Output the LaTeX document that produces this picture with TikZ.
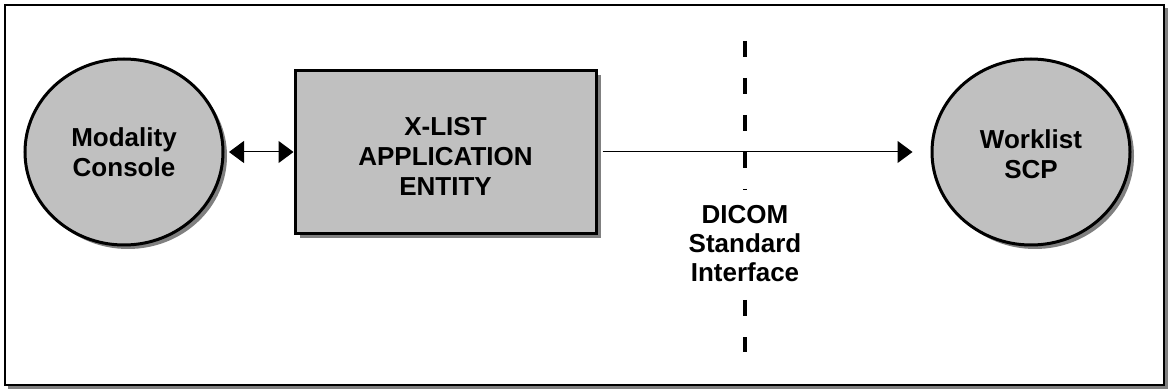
\documentclass[tikz,border=0pt]{standalone}
\usepackage{fontspec}
\setmainfont{Liberation Sans}
\usetikzlibrary{arrows.meta,shapes.geometric,shadows}
\definecolor{boxgray}{RGB}{192,192,192}
\definecolor{shadowgray}{RGB}{128,128,128}
\begin{document}
\begin{tikzpicture}[x=1pt,y=-1pt,
  lbl/.style={font=\fontsize{26}{30}\selectfont\bfseries, align=center},
  entbox/.style={lbl, draw=black, line width=3pt, fill=boxgray,
    drop shadow={shadow xshift=5pt, shadow yshift=-5pt, fill=shadowgray, opacity=1}},
  entround/.style={lbl, ellipse, draw=black, line width=3pt, fill=boxgray,
    minimum width=198pt, minimum height=186pt, inner sep=0pt,
    drop shadow={shadow xshift=4pt, shadow yshift=-4pt, fill=shadowgray, opacity=1}},
  conn/.style={line width=1pt},
  tip/.tip={Triangle[length=15pt,width=22pt]},
  divider/.style={line width=4.5pt, dash pattern=on 16pt off 21pt}]
\useasboundingbox (0,0) rectangle (1168,390);
% frame
\fill[shadowgray] (8,8) rectangle (1167.5,389);
\draw[line width=2pt, fill=white] (5,5) rectangle (1164,385);
% interface divider
\coordinate (dtop) at (745,41);
\coordinate (dbot) at (745,352);
\draw[divider] (dtop) -- (dbot);
\node[lbl, fill=white, inner xsep=2pt, inner ysep=16pt,
  font=\fontsize{26}{29}\selectfont\bfseries] (iface) at (745,244)
  {DICOM\\Standard\\Interface};
% entities
\node[entround] (mc) at (124,152) {Modality\\Console};
\node[entbox, minimum width=301pt, minimum height=163pt, inner sep=0pt] (xl)
  at (445.5,152) {\rule{0pt}{27pt}X-LIST\\APPLICATION\\ENTITY};
\node[entround] (ws) at (1031,152) {\rule{0pt}{24pt}Worklist\\SCP};
% connectors
\draw[conn, tip-tip, shorten <=4.5pt] (mc) -- (xl);
\draw[conn, -tip, shorten <=5pt, shorten >=18pt] (xl) -- (ws);
\end{tikzpicture}
\end{document}
